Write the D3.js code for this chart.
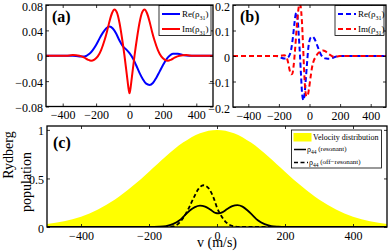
<!DOCTYPE html>
<html>
<head>
<meta charset="utf-8">
<script src="https://cdn.jsdelivr.net/npm/d3@7"></script>
<style>
  body { margin: 0; background: #fff; }
  svg { display: block; font-family: "Liberation Serif", "Times New Roman", serif; }
</style>
</head>
<body>
<svg id="chart" width="388" height="251"></svg>
<script>
// ---- data ----
const xTicks = [-400, -200, 0, 200, 400];
const yTicksA = [-0.08, -0.04, 0, 0.04, 0.08];
const yTicksB = [-0.2, -0.1, 0, 0.1, 0.2];
const yTicksC = [0, 0.5, 1];

// (a) Re(rho31), solid blue
const aReV = [-500,-340,-300,-270,-240,-220,-200,-180,-160,-140,-120,-100,-80,-60,-40,-20,0,20,40,60,80,100,120,140,160,180,200,220,240,260,290,320,360,500];
const aRe  = [0,0,-0.001,-0.001,0.003,0.009,0.017,0.027,0.036,0.043,0.046,0.043,0.035,0.024,0.015,0.010,0.004,-0.004,-0.015,-0.027,-0.037,-0.044,-0.046,-0.043,-0.035,-0.025,-0.015,-0.006,0.000,0.003,0.003,0.001,0,0];
// (a) Im(rho31), solid red
const aImV = [-500,-380,-340,-300,-270,-250,-230,-210,-190,-170,-150,-135,-120,-105,-90,-75,-60,-45,-30,-15,-5,0,5,15,30,45,60,75,90,105,120,135,150,170,190,210,230,250,270,300,340,380,500];
const aIm  = [0,0,0.001,0,-0.003,-0.006,-0.008,-0.006,-0.001,0.009,0.024,0.038,0.054,0.067,0.073,0.068,0.052,0.028,0,-0.032,-0.053,-0.059,-0.053,-0.032,0,0.028,0.052,0.068,0.073,0.067,0.054,0.038,0.024,0.009,-0.001,-0.006,-0.008,-0.006,-0.003,0,0.001,0,0];

// (b) Re(rho31), dashed blue
const bReV = [-500,-220,-200,-180,-165,-150,-135,-120,-108,-98,-90,-85,-78,-70,-62,-55,-48,-40,-32,-24,-15,-8,0,10,20,30,45,60,75,90,110,130,150,170,190,500];
const bRe  = [0,0,-0.002,-0.008,-0.010,-0.009,-0.002,0.025,0.075,0.130,0.165,0.170,0.150,0.080,0,-0.080,-0.150,-0.173,-0.150,-0.090,-0.020,0.030,0.060,0.074,0.076,0.070,0.050,0.026,0.005,-0.006,-0.010,-0.011,-0.008,-0.003,0,0];
// (b) Im(rho31), dashed red
const bImV = [-500,-200,-180,-165,-150,-140,-130,-120,-112,-105,-95,-85,-75,-65,-58,-50,-42,-35,-28,-20,-12,-5,2,10,18,28,40,55,70,88,105,120,140,160,180,200,500];
const bIm  = [0,0,0.002,0.003,-0.005,-0.025,-0.055,-0.072,-0.070,-0.045,0.020,0.100,0.170,0.205,0.195,0.140,0.040,-0.060,-0.130,-0.158,-0.155,-0.135,-0.105,-0.070,-0.040,-0.018,-0.004,0.010,0.018,0.022,0.018,0.010,0.002,-0.003,-0.002,0,0];

// (c) velocity distribution and Rydberg population
const cVelV = [-500,-450,-400,-350,-300,-250,-200,-150,-100,-50,0,50,100,150,200,250,300,350,400,450,500];
const cVel  = [0.030,0.058,0.106,0.180,0.283,0.416,0.570,0.729,0.869,0.966,1,0.966,0.869,0.729,0.570,0.416,0.283,0.180,0.106,0.058,0.030];
const cResV = [-500,-200,-170,-150,-130,-110,-95,-80,-65,-50,-35,-20,-5,5,15,30,45,60,75,90,105,120,140,160,180,200,500];
const cRes  = [0,0,0.003,0.010,0.030,0.070,0.120,0.170,0.205,0.220,0.210,0.180,0.145,0.140,0.150,0.185,0.215,0.225,0.210,0.170,0.120,0.070,0.030,0.010,0.003,0,0];
const cOffV = [-500,-150,-130,-115,-100,-85,-70,-55,-40,-25,-10,0,10,20,30,45,60,80,500];
const cOff  = [0,0,0.005,0.030,0.090,0.180,0.290,0.390,0.430,0.400,0.300,0.200,0.130,0.075,0.038,0.012,0.002,0,0];

const svg = d3.select('#chart');
const fontFam = '"Liberation Serif","Times New Roman",serif';

function fmtA(d) { return d === 0 ? '0' : d3.format('.2f')(d); }
function fmtB(d) { return d === 0 ? '0' : d3.format('.1f')(d); }
function fmtC(d) { return d3.format('~g')(d); }

function makePanel(id, box, yDom, yTicks, yFmt) {
  const x = d3.scaleLinear().domain([-500, 500]).range([box.left, box.right]);
  const y = d3.scaleLinear().domain(yDom).range([box.bottom, box.top]);
  const g = svg.append('g');

  g.append('clipPath').attr('id', 'clip-' + id)
    .append('rect')
    .attr('x', box.left).attr('y', box.top)
    .attr('width', box.right - box.left).attr('height', box.bottom - box.top);

  const plot = g.append('g').attr('clip-path', `url(#clip-${id})`);

  const axes = [
    g.append('g').attr('transform', `translate(0,${box.bottom})`)
      .call(d3.axisBottom(x).tickValues(xTicks).tickSize(-3).tickPadding(4)),
    g.append('g').attr('transform', `translate(0,${box.top})`)
      .call(d3.axisTop(x).tickValues(xTicks).tickSize(-3).tickFormat('')),
    g.append('g').attr('transform', `translate(${box.left},0)`)
      .call(d3.axisLeft(y).tickValues(yTicks).tickSize(-3).tickPadding(3).tickFormat(yFmt)),
    g.append('g').attr('transform', `translate(${box.right},0)`)
      .call(d3.axisRight(y).tickValues(yTicks).tickSize(-3).tickFormat(''))
  ];
  axes.forEach(a => {
    a.select('.domain').remove();
    a.attr('font-family', fontFam).attr('font-size', 12);
    a.selectAll('line').attr('stroke', '#000').attr('stroke-width', 0.8);
    a.selectAll('text').attr('fill', '#000');
  });
  // y labels sit a touch lower so the top one stays inside the picture
  axes[2].selectAll('text').attr('dy', '0.42em');

  return { g, plot, x, y, box };
}

function frame(p) {
  p.g.append('rect')
    .attr('x', p.box.left).attr('y', p.box.top)
    .attr('width', p.box.right - p.box.left).attr('height', p.box.bottom - p.box.top)
    .attr('fill', 'none').attr('stroke', '#000').attr('stroke-width', 1.3);
}

function drawLine(p, xs, ys, color, width, dash) {
  const line = d3.line()
    .x(d => p.x(d[0])).y(d => p.y(d[1]))
    .curve(d3.curveMonotoneX);
  p.plot.append('path')
    .datum(d3.zip(xs, ys))
    .attr('d', line)
    .attr('fill', 'none')
    .attr('stroke', color)
    .attr('stroke-width', width)
    .attr('stroke-dasharray', dash || null);
}

function legendAB(p, x0, dash) {
  const lg = p.g.append('g');
  lg.append('rect').attr('x', x0).attr('y', p.box.top + 0.5)
    .attr('width', p.box.right - x0 - 2).attr('height', 30)
    .attr('fill', '#fff').attr('stroke', '#000').attr('stroke-width', 0.8);
  [['Re', '#0000ff', 14], ['Im', '#ff0000', 29]].forEach(([name, col, ly]) => {
    lg.append('line').attr('x1', x0 + 3).attr('x2', x0 + 21).attr('y1', ly).attr('y2', ly)
      .attr('stroke', col).attr('stroke-width', 2).attr('stroke-dasharray', dash || null);
    const t = lg.append('text').attr('x', x0 + 23).attr('y', ly + 3)
      .attr('font-family', fontFam).attr('font-size', 9).attr('fill', '#000');
    t.append('tspan').text(name + '(ρ');
    t.append('tspan').attr('dy', 2.5).attr('font-size', 6).text('31');
    t.append('tspan').attr('dy', -2.5).text(')');
  });
}

function panelLabel(p, txt, x, y) {
  p.g.append('text').attr('x', x).attr('y', y)
    .attr('font-family', fontFam).attr('font-size', 16).attr('font-weight', 'bold')
    .text(txt);
}

// ---- panel (a) ----
const pa = makePanel('a', { left: 46, top: 5, right: 213, bottom: 106.5 }, [-0.08, 0.08], yTicksA, fmtA);
drawLine(pa, aReV, aRe, '#0000ff', 2);
drawLine(pa, aImV, aIm, '#ff0000', 2);
legendAB(pa, 159);
panelLabel(pa, '(a)', 52, 22);
frame(pa);

// ---- panel (b) ----
const pb = makePanel('b', { left: 233, top: 5, right: 386, bottom: 107 }, [-0.2, 0.2], yTicksB, fmtB);
drawLine(pb, bReV, bRe, '#0000ff', 2, '5,3');
drawLine(pb, bImV, bIm, '#ff0000', 2, '5,3');
legendAB(pb, 335, '5,3');
panelLabel(pb, '(b)', 240, 22);
frame(pb);

// ---- panel (c) ----
const pc = makePanel('c', { left: 47, top: 126, right: 387, bottom: 227 }, [0, 1.04], yTicksC, fmtC);
const area = d3.area()
  .x(d => pc.x(d[0])).y0(pc.y(0)).y1(d => pc.y(d[1]))
  .curve(d3.curveMonotoneX);
pc.plot.append('path').datum(d3.zip(cVelV, cVel)).attr('d', area).attr('fill', '#ffff00');
drawLine(pc, cResV, cRes, '#000', 1.8);
drawLine(pc, cOffV, cOff, '#000', 1.8, '4,2.5');
panelLabel(pc, '(c)', 53, 148);

// legend (c)
const lc = pc.g.append('g');
lc.append('rect').attr('x', 291.5).attr('y', 130).attr('width', 90).attr('height', 38)
  .attr('fill', '#fff').attr('stroke', '#000').attr('stroke-width', 0.8);
lc.append('rect').attr('x', 293.5).attr('y', 133).attr('width', 18).attr('height', 8.5).attr('fill', '#ffff00');
lc.append('text').attr('x', 313).attr('y', 140).attr('font-family', fontFam).attr('font-size', 8)
  .text('Velocity distribution');
[['(resonant)', 149.5, null], ['(off\u2212resonant)', 162.5, '4,2.5']].forEach(([lab, ly, dash]) => {
  lc.append('line').attr('x1', 294).attr('x2', dash ? 308 : 306).attr('y1', ly).attr('y2', ly)
    .attr('stroke', '#000').attr('stroke-width', 1.5).attr('stroke-dasharray', dash);
  const t = lc.append('text').attr('x', dash ? 309 : 307).attr('y', ly + 2)
    .attr('font-family', fontFam).attr('font-size', 8);
  t.append('tspan').text('ρ');
  t.append('tspan').attr('dy', 2).attr('font-size', 5.5).text('44');
  t.append('tspan').attr('dy', -3).attr('font-size', 7).text(' ' + lab);
});
frame(pc);

// axis titles
svg.append('text').attr('x', 217).attr('y', 247).attr('text-anchor', 'middle')
  .attr('font-family', fontFam).attr('font-size', 14).text('v (m/s)');
svg.append('text').attr('transform', 'translate(13,155) rotate(-90)').attr('text-anchor', 'middle')
  .attr('font-family', fontFam).attr('font-size', 14).text('Rydberg');
svg.append('text').attr('transform', 'translate(31,182) rotate(-90)').attr('text-anchor', 'middle')
  .attr('font-family', fontFam).attr('font-size', 14).text('population');
</script>
</body>
</html>
